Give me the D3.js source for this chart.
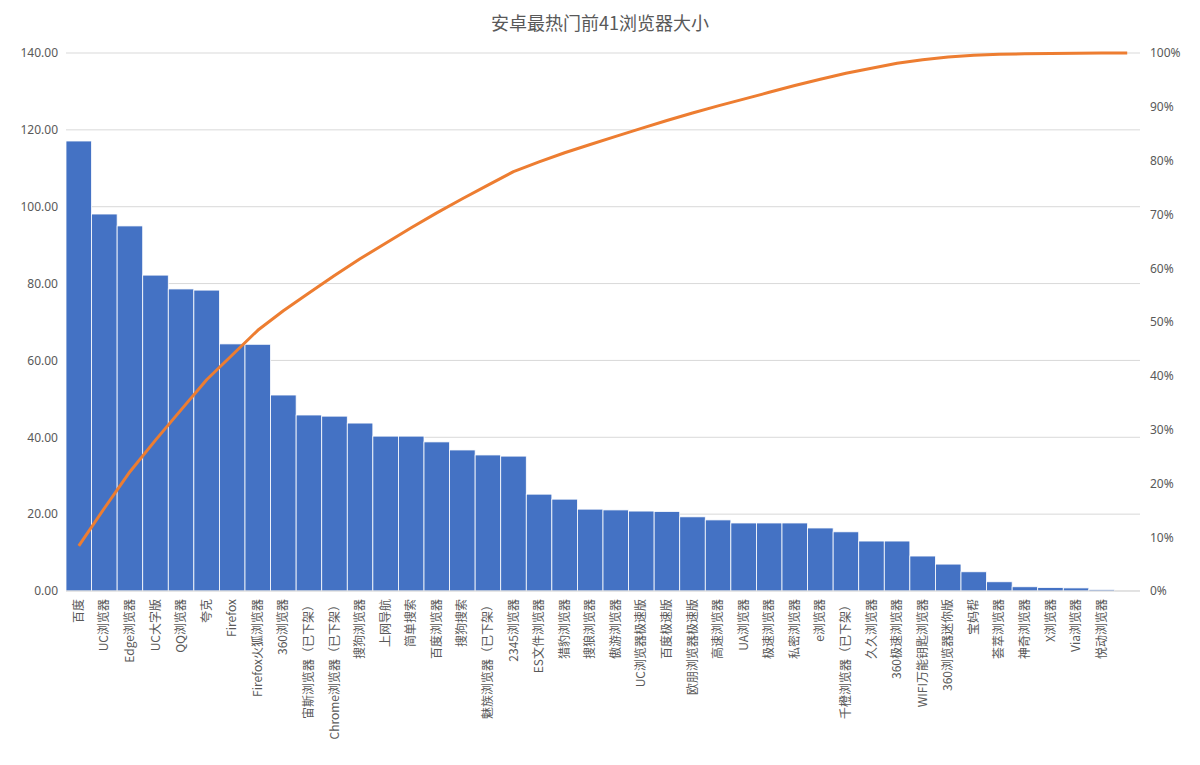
<!DOCTYPE html>
<html><head><meta charset="utf-8">
<script src="https://cdn.jsdelivr.net/npm/d3@7"></script>
<style>body{margin:0;background:#fff;font-family:"Noto Sans CJK SC","Noto Sans",sans-serif;}</style>
</head><body><svg id="c" width="1200" height="765"></svg>
<script>
const categories=["百度","UC浏览器","Edge浏览器","UC大字版","QQ浏览器","夸克","Firefox","Firefox火狐浏览器","360浏览器","宙斯浏览器（已下架）","Chrome浏览器（已下架）","搜狗浏览器","上网导航","简单搜索","百度浏览器","搜狗搜索","魅族浏览器（已下架）","2345浏览器","ES文件浏览器","猎豹浏览器","搜狼浏览器","傲游浏览器","UC浏览器极速版","百度极速版","欧朋浏览器极速版","高速浏览器","UA浏览器","极速浏览器","私密浏览器","e浏览器","千橙浏览器（已下架）","久久浏览器","360极速浏览器","WIFI万能钥匙浏览器","360浏览器迷你版","宝妈帮","荟萃浏览器","神奇浏览器","X浏览器","Via浏览器","悦动浏览器",""];
const sizes=[117.1,98.1,95.0,82.2,78.6,78.3,64.3,64.2,51.0,45.8,45.5,43.7,40.3,40.3,38.8,36.7,35.4,35.1,25.2,23.9,21.3,21.1,20.8,20.7,19.3,18.5,17.7,17.7,17.7,16.4,15.4,13.0,13.0,9.1,7.0,5.0,2.4,1.1,0.9,0.8,0.4,0];
const leftTicks=[0,20,40,60,80,100,120,140];
const rightTicks=[0,0.1,0.2,0.3,0.4,0.5,0.6,0.7,0.8,0.9,1];
const total=d3.sum(sizes);let acc=0;const cum=sizes.map(v=>(acc+=v)/total);

const svg=d3.select("#c");
const L=66,R=1140,T=53,B=591;
const x=d3.scaleBand().domain(d3.range(categories.length)).range([L,R]).padding(0);
const y=d3.scaleLinear().domain([0,140]).range([B,T]);
const y2=d3.scaleLinear().domain([0,1]).range([B,T]);
svg.append("text").attr("x",600).attr("y",30).attr("text-anchor","middle").attr("font-size",18).attr("fill","#595959").text("安卓最热门前41浏览器大小");
svg.append("g").selectAll("line").data(leftTicks).join("line").attr("x1",L).attr("x2",R).attr("y1",d=>y(d)).attr("y2",d=>y(d)).attr("stroke","#d9d9d9");
const ax=svg.append("g").attr("transform",`translate(${L},0)`).call(d3.axisLeft(y).tickValues(leftTicks).tickFormat(d3.format(".2f")).tickSize(0).tickPadding(8));
ax.select(".domain").remove();ax.selectAll("text").attr("font-size",12).attr("fill","#595959").attr("font-family","Noto Sans");
const ax2=svg.append("g").attr("transform",`translate(${R},0)`).call(d3.axisRight(y2).tickValues(rightTicks).tickFormat(d3.format(".0%")).tickSize(0).tickPadding(10));
ax2.select(".domain").remove();ax2.selectAll("text").attr("font-size",12).attr("fill","#595959").attr("font-family","Noto Sans");
svg.append("g").selectAll("rect").data(sizes).join("rect").attr("x",(d,i)=>x(i)).attr("width",x.bandwidth()).attr("y",d=>y(d)).attr("height",d=>B-y(d)).attr("fill","#4472C4").attr("stroke","#fff").attr("stroke-width",0.8);
svg.append("line").attr("x1",L).attr("x2",R).attr("y1",B).attr("y2",B).attr("stroke","#d9d9d9");
svg.append("g").selectAll("text").data(categories).join("text").attr("transform",(d,i)=>`translate(${x(i)+x.bandwidth()/2+4},${B+8}) rotate(-90)`).attr("text-anchor","end").attr("font-size",12).attr("fill","#595959").text(d=>d);
svg.append("path").datum(cum).attr("d",d3.line().x((d,i)=>x(i)+x.bandwidth()/2).y(d=>y2(d))).attr("fill","none").attr("stroke","#ED7D31").attr("stroke-width",3).attr("stroke-linejoin","round");
</script></body></html>
